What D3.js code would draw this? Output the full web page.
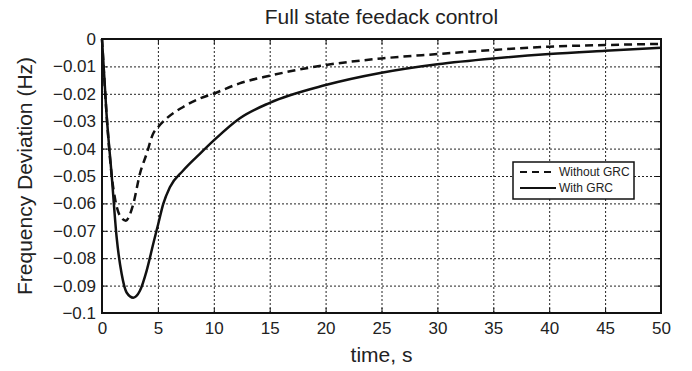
<!DOCTYPE html>
<html>
<head>
<meta charset="utf-8">
<script src="https://cdn.jsdelivr.net/npm/d3@7"></script>
<style>
  body { margin: 0; background: #fff; }
  svg { display: block; font-family: "Liberation Sans", Arial, sans-serif; }
</style>
</head>
<body>
<div id="chart"></div>
<script>
// values
var timeWith = [0, 0.4, 0.87, 1.31, 1.76, 2.2, 2.8, 3.39, 3.99, 4.58, 5.03, 5.48, 6.07, 7.26, 8.75, 10, 12.3, 15, 20, 25, 30, 35, 40, 45, 50];
var withGRC = [0, -0.027, -0.050, -0.0724, -0.0858, -0.0925, -0.0944, -0.0919, -0.0846, -0.0748, -0.0675, -0.0602, -0.0541, -0.048, -0.0419, -0.037, -0.029, -0.0233, -0.0168, -0.0123, -0.0092, -0.0071, -0.0055, -0.0043, -0.0032];

var timeWithout = [0, 0.4, 0.87, 1.2, 1.6, 2.14, 2.5, 2.8, 3.39, 3.99, 4.58, 5.03, 5.77, 7.26, 8.75, 10, 12.3, 15, 20, 25, 30, 35, 40, 45, 50];
var withoutGRC = [0, -0.027, -0.050, -0.059, -0.0645, -0.0663, -0.064, -0.0602, -0.0492, -0.0419, -0.0345, -0.0321, -0.029, -0.0248, -0.0217, -0.0199, -0.0162, -0.0134, -0.0095, -0.0071, -0.0055, -0.004, -0.0028, -0.0022, -0.0018];

var xTicks = [0, 5, 10, 15, 20, 25, 30, 35, 40, 45, 50];
var yTicks = [0, -0.01, -0.02, -0.03, -0.04, -0.05, -0.06, -0.07, -0.08, -0.09, -0.1];
var yTickLabels = ["0", "\u22120.01", "\u22120.02", "\u22120.03", "\u22120.04", "\u22120.05", "\u22120.06", "\u22120.07", "\u22120.08", "\u22120.09", "\u22120.1"];
var seriesNames = ["Without GRC", "With GRC"];

var margin = {top: 39, right: 31, bottom: 58, left: 102};
var width = 692 - margin.left - margin.right;
var height = 371 - margin.top - margin.bottom;

var x = d3.scaleLinear().domain([0, 50]).range([0, width]);
var y = d3.scaleLinear().domain([-0.1, 0]).range([height, 0]);

var svg = d3.select("#chart")
  .append("svg")
  .attr("width", 692)
  .attr("height", 371);

var g = svg.append("g")
  .attr("transform", "translate(" + margin.left + "," + margin.top + ")");

// grid
g.append("g")
  .attr("class", "grid")
  .attr("transform", "translate(0," + height + ")")
  .call(d3.axisBottom(x).tickValues(xTicks.slice(1, -1)).tickSize(-height).tickFormat(""))
  .call(s => s.select(".domain").remove());
g.append("g")
  .attr("class", "grid")
  .call(d3.axisLeft(y).tickValues(yTicks.slice(1, -1)).tickSize(-width).tickFormat(""))
  .call(s => s.select(".domain").remove());
g.selectAll(".grid line")
  .attr("stroke", "#222")
  .attr("stroke-width", 1)
  .attr("stroke-dasharray", "2,2");

// axes with inward ticks
var xAxis = g.append("g")
  .attr("transform", "translate(0," + height + ")")
  .call(d3.axisBottom(x).tickValues(xTicks).tickSize(-5).tickPadding(9));
var yAxis = g.append("g")
  .call(d3.axisLeft(y).tickValues(yTicks).tickSize(-5).tickPadding(6)
    .tickFormat((d, i) => yTickLabels[i]));
g.append("g")
  .call(d3.axisTop(x).tickValues(xTicks).tickSize(-5).tickFormat(""));
g.append("g")
  .attr("transform", "translate(" + width + ",0)")
  .call(d3.axisRight(y).tickValues(yTicks).tickSize(-5).tickFormat(""));

g.selectAll(".domain").remove();
g.selectAll(".tick line").filter(function() { return this.parentNode.parentNode.getAttribute("class") !== "grid"; })
  .attr("stroke", "#111").attr("stroke-width", 1);
g.selectAll(".tick text")
  .attr("font-size", "17px")
  .attr("font-family", "Liberation Sans, Arial, sans-serif")
  .attr("fill", "#222");

// lines
var line = d3.line()
  .x(d => x(d[0]))
  .y(d => y(d[1]))
  .curve(d3.curveMonotoneX);

g.append("path")
  .datum(timeWithout.map((t, i) => [t, withoutGRC[i]]))
  .attr("fill", "none")
  .attr("stroke", "#111")
  .attr("stroke-width", 2.5)
  .attr("stroke-dasharray", "8,5")
  .attr("d", line);

g.append("path")
  .datum(timeWith.map((t, i) => [t, withGRC[i]]))
  .attr("fill", "none")
  .attr("stroke", "#111")
  .attr("stroke-width", 2.5)
  .attr("d", line);

// frame
g.append("rect")
  .attr("width", width)
  .attr("height", height)
  .attr("fill", "none")
  .attr("stroke", "#111")
  .attr("stroke-width", 2);

// legend
var legend = svg.append("g").attr("transform", "translate(513,162)");
legend.append("rect")
  .attr("width", 121)
  .attr("height", 37)
  .attr("fill", "#fff")
  .attr("stroke", "#111")
  .attr("stroke-width", 1.5);
seriesNames.forEach(function(name, i) {
  legend.append("line")
    .attr("x1", 7).attr("x2", 43)
    .attr("y1", 10 + i * 16).attr("y2", 10 + i * 16)
    .attr("stroke", "#111")
    .attr("stroke-width", 2)
    .attr("stroke-dasharray", i === 0 ? "7,5" : null);
  legend.append("text")
    .attr("x", 46)
    .attr("y", 10 + i * 16)
    .attr("dy", "0.35em")
    .attr("font-size", "12px")
    .attr("fill", "#222")
    .text(name);
});

// titles
svg.append("text")
  .attr("x", margin.left + width / 2)
  .attr("y", 24)
  .attr("text-anchor", "middle")
  .attr("font-size", "21px")
  .attr("fill", "#222")
  .text("Full state feedack control");

svg.append("text")
  .attr("x", margin.left + width / 2)
  .attr("y", 362)
  .attr("text-anchor", "middle")
  .attr("font-size", "21px")
  .attr("fill", "#222")
  .text("time, s");

svg.append("text")
  .attr("transform", "rotate(-90)")
  .attr("x", -(margin.top + height / 2))
  .attr("y", 32)
  .attr("text-anchor", "middle")
  .attr("font-size", "21px")
  .attr("fill", "#222")
  .text("Frequency Deviation (Hz)");
</script>
</body>
</html>
